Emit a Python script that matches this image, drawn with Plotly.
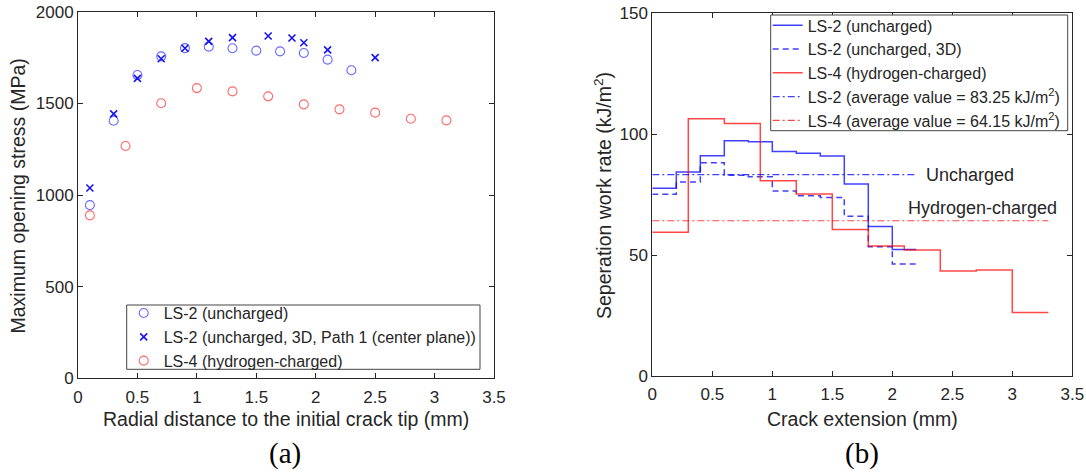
import plotly.graph_objects as go

# ---------------- data: panel (a) ----------------
ls2_x = [0.1, 0.3, 0.5, 0.7, 0.9, 1.1, 1.3, 1.5, 1.7, 1.9, 2.1, 2.3]
ls2_stress = [945, 1405, 1654, 1756, 1801, 1809, 1800, 1787, 1783, 1774, 1738, 1680]

ls2_3d_x = [0.1, 0.3, 0.5, 0.7, 0.9, 1.1, 1.3, 1.6, 1.8, 1.9, 2.1, 2.5]
ls2_3d_stress = [1038, 1442, 1636, 1743, 1800, 1838, 1858, 1867, 1856, 1830, 1791, 1749]

ls4_x = [0.1, 0.4, 0.7, 1.0, 1.3, 1.6, 1.9, 2.2, 2.5, 2.8, 3.1]
ls4_stress = [889, 1267, 1500, 1583, 1565, 1538, 1494, 1467, 1449, 1416, 1407]

# ---------------- data: panel (b) ----------------
ls2_edges = [0, 0.2, 0.4, 0.6, 0.8, 1.0, 1.2, 1.4, 1.6, 1.8, 2.0, 2.2]
ls2_rate = [77.6, 84.3, 91.0, 97.2, 96.8, 92.8, 92.0, 90.9, 79.3, 61.8, 52.3]
ls2_3d_rate = [75.1, 80.2, 88.1, 83.0, 82.3, 76.4, 74.5, 73.8, 66.0, 53.4, 46.3]

ls4_edges = [0, 0.3, 0.6, 0.9, 1.2, 1.5, 1.8, 2.1, 2.4, 2.7, 3.0, 3.3]
ls4_rate = [59.4, 106.3, 104.3, 80.7, 75.2, 60.5, 53.7, 52.1, 43.4, 43.8, 26.2]

avg_ls2 = 83.25
avg_ls4 = 64.15

W, H = 1086, 473
TXT = "#262626"
FONT = "Liberation Sans, Arial, sans-serif"
SERIF = "Liberation Serif, Times New Roman, serif"
BLUE_LINE = "rgba(0,0,255,0.75)"
RED_LINE = "rgba(255,0,0,0.72)"

fig = go.Figure()

# panel (a) markers
fig.add_trace(go.Scatter(x=ls2_x, y=ls2_stress, mode="markers", name="LS-2 (uncharged)",
                         marker=dict(symbol="circle-open", size=9, color="rgb(105,105,255)", line=dict(width=1.1)),
                         xaxis="x", yaxis="y", legend="legend"))
fig.add_trace(go.Scatter(x=ls2_3d_x, y=ls2_3d_stress, mode="markers",
                         name="LS-2 (uncharged, 3D, Path 1 (center plane))",
                         marker=dict(symbol="x-thin-open", size=7, color="rgb(20,20,240)", line=dict(width=1.6)),
                         xaxis="x", yaxis="y", legend="legend"))
fig.add_trace(go.Scatter(x=ls4_x, y=ls4_stress, mode="markers", name="LS-4 (hydrogen-charged)",
                         marker=dict(symbol="circle-open", size=9, color="rgb(255,105,105)", line=dict(width=1.1)),
                         xaxis="x", yaxis="y", legend="legend"))


def step(edges, vals):
    return list(edges), list(vals) + [vals[-1]]


x1, y1 = step(ls2_edges, ls2_rate)
fig.add_trace(go.Scatter(x=x1, y=y1, mode="lines", line_shape="hv", name="LS-2 (uncharged)",
                         line=dict(color=BLUE_LINE, width=1.5), xaxis="x2", yaxis="y2", legend="legend2"))
x2, y2 = step(ls2_edges, ls2_3d_rate)
fig.add_trace(go.Scatter(x=x2, y=y2, mode="lines", line_shape="hv", name="LS-2 (uncharged, 3D)",
                         line=dict(color=BLUE_LINE, width=1.5, dash="6px,4px"), xaxis="x2", yaxis="y2",
                         legend="legend2"))
x3, y3 = step(ls4_edges, ls4_rate)
fig.add_trace(go.Scatter(x=x3, y=y3, mode="lines", line_shape="hv", name="LS-4 (hydrogen-charged)",
                         line=dict(color=RED_LINE, width=1.5), xaxis="x2", yaxis="y2", legend="legend2"))
fig.add_trace(go.Scatter(x=[ls2_edges[0], ls2_edges[-1]], y=[avg_ls2, avg_ls2], mode="lines",
                         name="LS-2 (average value = 83.25 kJ/m<sup>2</sup>)",
                         line=dict(color=BLUE_LINE, width=1.2, dash="7px,3px,2px,3px"), xaxis="x2", yaxis="y2",
                         legend="legend2"))
fig.add_trace(go.Scatter(x=[ls4_edges[0], ls4_edges[-1]], y=[avg_ls4, avg_ls4], mode="lines",
                         name="LS-4 (average value = 64.15 kJ/m<sup>2</sup>)",
                         line=dict(color=RED_LINE, width=1.2, dash="7px,3px,2px,3px"), xaxis="x2", yaxis="y2",
                         legend="legend2"))

axis_common = dict(showgrid=False, zeroline=False, showline=True, linecolor=TXT, linewidth=1,
                   ticks="inside", ticklen=5, tickcolor=TXT, mirror="ticks",
                   tickfont=dict(family=FONT, size=17, color=TXT), automargin=False)

# legend boxes (px in page coordinates)
leg1_box = (126.7, 305, 480, 369.3)
leg2_box = (770.7, 15, 1067.7, 130.7)

fig.update_layout(
    width=W, height=H,
    margin=dict(l=0, r=0, t=0, b=0),
    paper_bgcolor="white", plot_bgcolor="white",
    font=dict(family=FONT, color=TXT),
    xaxis=dict(domain=[78 / W, 494 / W], range=[0, 3.5], dtick=0.5, anchor="y", ticklabelstandoff=3, **axis_common),
    yaxis=dict(domain=[1 - 378.4 / H, 1 - 11.6 / H], range=[0, 2000], dtick=500, anchor="x", **axis_common),
    xaxis2=dict(domain=[652.3 / W, 1072.3 / W], range=[0, 3.5], dtick=0.5, anchor="y2", ticklabelstandoff=3,
                **axis_common),
    yaxis2=dict(domain=[1 - 376 / H, 1 - 13 / H], range=[0, 150], dtick=50, anchor="x2", **axis_common),
    legend=dict(x=(leg1_box[0] - 3) / W, y=1 - (leg1_box[1] + leg1_box[3]) / 2 / H, xanchor="left",
                yanchor="middle", bgcolor="rgba(0,0,0,0)", borderwidth=0,
                font=dict(family=FONT, size=16, color=TXT)),
    legend2=dict(x=(leg2_box[0] - 3) / W, y=1 - (leg2_box[1] + leg2_box[3]) / 2 / H, xanchor="left",
                 yanchor="middle", bgcolor="rgba(0,0,0,0)", borderwidth=0,
                 font=dict(family=FONT, size=16, color=TXT)),
    showlegend=True,
    shapes=[
        dict(type="rect", xref="paper", yref="paper", layer="above",
             x0=b[0] / W, x1=b[2] / W, y0=1 - b[3] / H, y1=1 - b[1] / H,
             fillcolor="white", line=dict(color="#444444", width=1))
        for b in (leg1_box, leg2_box)
    ],
)

ann = [
    dict(text="Radial distance to the initial crack tip (mm)", x=286 / W, y=1 - 419 / H, xref="paper", yref="paper",
         xanchor="center", yanchor="middle", showarrow=False, font=dict(family=FONT, size=19.5, color=TXT)),
    dict(text="Maximum opening stress (MPa)", x=18 / W, y=1 - 196.5 / H, xref="paper", yref="paper",
         xanchor="center", yanchor="middle", textangle=-90, showarrow=False,
         font=dict(family=FONT, size=19.5, color=TXT)),
    dict(text="Crack extension (mm)", x=862 / W, y=1 - 419 / H, xref="paper", yref="paper",
         xanchor="center", yanchor="middle", showarrow=False, font=dict(family=FONT, size=19.5, color=TXT)),
    dict(text="Seperation work rate (kJ/m<sup>2</sup>)", x=603 / W, y=1 - 196 / H, xref="paper", yref="paper",
         xanchor="center", yanchor="middle", textangle=-90, showarrow=False,
         font=dict(family=FONT, size=19.5, color=TXT)),
    dict(text="(a)", x=285 / W, y=1 - 453 / H, xref="paper", yref="paper", xanchor="center", yanchor="middle",
         showarrow=False, font=dict(family=SERIF, size=29, color="black")),
    dict(text="(b)", x=862 / W, y=1 - 453 / H, xref="paper", yref="paper", xanchor="center", yanchor="middle",
         showarrow=False, font=dict(family=SERIF, size=29, color="black")),
    dict(text="Uncharged", x=2.26, y=avg_ls2, xref="x2", yref="y2", xanchor="left", yanchor="middle",
         showarrow=False, font=dict(family=FONT, size=18, color=TXT)),
    dict(text="Hydrogen-charged", x=2.11, y=69.4, xref="x2", yref="y2", xanchor="left", yanchor="middle",
         showarrow=False, font=dict(family=FONT, size=18, color=TXT)),
]
fig.update_layout(annotations=ann)

fig.write_html("out.html", config={"displayModeBar": False},
               post_script="document.body.style.margin='0';document.body.style.overflow='hidden';")
